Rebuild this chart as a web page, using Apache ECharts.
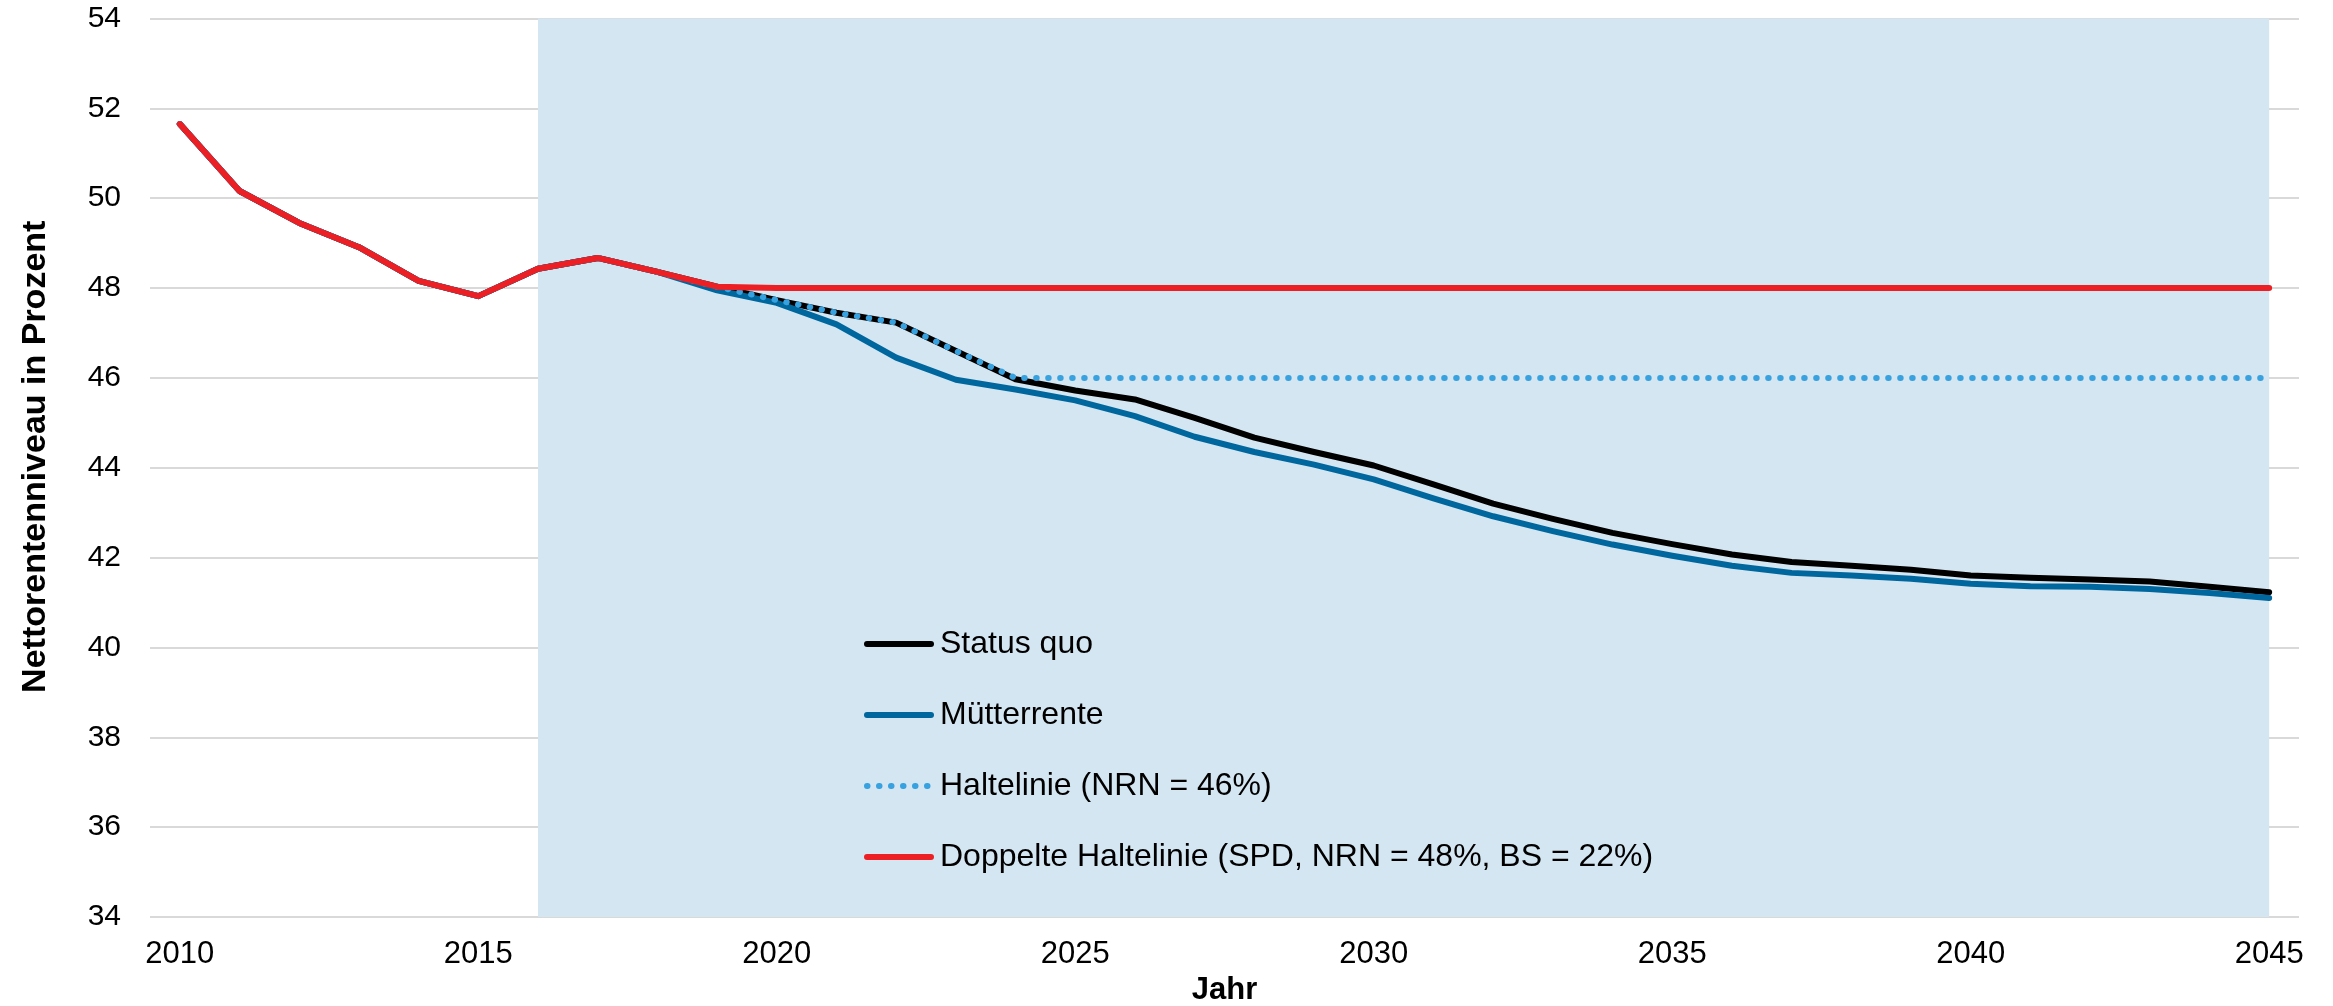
<!DOCTYPE html>
<html>
<head>
<meta charset="utf-8">
<script src="https://cdn.jsdelivr.net/npm/echarts@6/dist/echarts.min.js"></script>
<style>
html,body{margin:0;padding:0;background:#fff;}
#c{width:2333px;height:1006px;}
</style>
</head>
<body>
<div id="c"></div>
<script>
const years = [2010,2011,2012,2013,2014,2015,2016,2017,2018,2019,2020,2021,2022,2023,2024,2025,2026,2027,2028,2029,2030,2031,2032,2033,2034,2035,2036,2037,2038,2039,2040,2041,2042,2043,2044,2045];
const xTickLabels = [2010,2015,2020,2025,2030,2035,2040,2045];
const statusQuo = [51.65,50.16,49.45,48.91,48.16,47.82,48.43,48.67,48.36,48.03,47.73,47.45,47.23,46.60,45.97,45.72,45.52,45.11,44.67,44.35,44.05,43.63,43.20,42.86,42.55,42.30,42.07,41.90,41.82,41.73,41.60,41.55,41.51,41.47,41.35,41.23];
const muetterrente = [51.65,50.16,49.45,48.91,48.16,47.82,48.43,48.67,48.36,47.95,47.67,47.19,46.45,45.96,45.74,45.50,45.15,44.69,44.35,44.07,43.74,43.32,42.92,42.59,42.29,42.04,41.82,41.66,41.60,41.53,41.42,41.36,41.35,41.30,41.21,41.10];
const haltelinie = [51.65,50.16,49.45,48.91,48.16,47.82,48.43,48.67,48.36,48.03,47.73,47.45,47.23,46.60,46.0,46.0,46.0,46.0,46.0,46.0,46.0,46.0,46.0,46.0,46.0,46.0,46.0,46.0,46.0,46.0,46.0,46.0,46.0,46.0,46.0,46.0];
const doppelteHaltelinie = [51.65,50.16,49.45,48.91,48.16,47.82,48.43,48.67,48.36,48.03,48.0,48.0,48.0,48.0,48.0,48.0,48.0,48.0,48.0,48.0,48.0,48.0,48.0,48.0,48.0,48.0,48.0,48.0,48.0,48.0,48.0,48.0,48.0,48.0,48.0,48.0];
const projectionStart = 2016;
const projectionEnd = 2045;
const seriesNames = ['Status quo','Mütterrente','Haltelinie (NRN = 46%)','Doppelte Haltelinie (SPD, NRN = 48%, BS = 22%)'];

const pairs = arr => years.map((y,i)=>[y, arr[i]]);
const FONT = '"Liberation Sans", Arial, sans-serif';
const LW = 6;

const chart = echarts.init(document.getElementById('c'), null, {renderer:'canvas'});
chart.setOption({
  animation:false,
  backgroundColor:'#ffffff',
  textStyle:{fontFamily:FONT,color:'#000'},
  grid:{left:150,right:34,top:18.5,bottom:89,containLabel:false,outerBoundsMode:'none'},
  xAxis:{
    type:'value', min:2009.5, max:2045.5,
    name:'Jahr', nameLocation:'middle', nameGap:54,
    nameTextStyle:{fontFamily:FONT,fontSize:31,fontWeight:'bold',color:'#000'},
    axisLine:{show:false}, axisTick:{show:false}, splitLine:{show:false},
    axisLabel:{customValues:xTickLabels, fontFamily:FONT, fontSize:31, color:'#000', margin:22, formatter:v=>String(v)}
  },
  yAxis:{
    type:'value', min:34, max:54, interval:2,
    name:'Nettorentenniveau in Prozent', nameLocation:'middle', nameGap:97,
    nameTextStyle:{fontFamily:FONT,fontSize:34,fontWeight:'bold',color:'#000',padding:[0,0,0,22]},
    axisLine:{show:false}, axisTick:{show:false},
    splitLine:{show:true,lineStyle:{color:'#d9d9d9',width:2}},
    axisLabel:{fontFamily:FONT,fontSize:30,color:'#000',margin:29}
  },
  legend:{
    orient:'vertical', left:859, top:619,
    itemWidth:64, itemHeight:40, itemGap:31,
    itemStyle:{opacity:0},
    lineStyle:{width:LW},
    textStyle:{fontFamily:FONT,fontSize:32,color:'#000',lineHeight:40,padding:[0,0,0,4]},
    data:seriesNames
  },
  series:[
    {name:seriesNames[0], type:'line', data:pairs(statusQuo), symbol:'none', z:3,
     lineStyle:{color:'#000000',width:LW,cap:'round',join:'round'}, itemStyle:{color:'#000000'},
     markArea:{silent:true, z:1, itemStyle:{color:'#d4e6f2'},
       data:[[{xAxis:projectionStart, yAxis:34},{xAxis:projectionEnd, yAxis:54}]]}},
    {name:seriesNames[1], type:'line', data:pairs(muetterrente), symbol:'none', z:3,
     lineStyle:{color:'#00679e',width:LW,cap:'round',join:'round'}, itemStyle:{color:'#00679e'}},
    {name:seriesNames[2], type:'line', data:pairs(haltelinie), symbol:'none', z:4,
     lineStyle:{color:'#38a2e0',width:LW,type:[0.5,11.5],cap:'round',join:'round'}, itemStyle:{color:'#38a2e0'}},
    {name:seriesNames[3], type:'line', data:pairs(doppelteHaltelinie), symbol:'none', z:5,
     lineStyle:{color:'#ec2024',width:LW,cap:'round',join:'round'}, itemStyle:{color:'#ec2024'}}
  ]
});
</script>
</body>
</html>
